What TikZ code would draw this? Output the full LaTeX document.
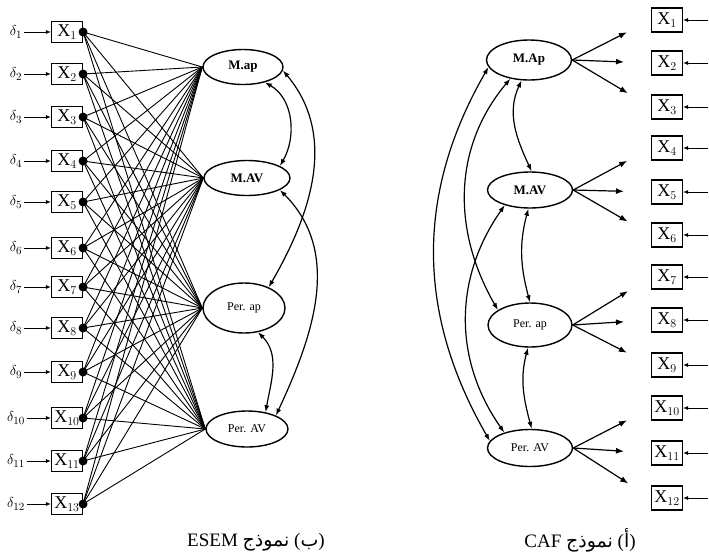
\documentclass[tikz,border=0pt]{standalone}
\usepackage{fontspec}
\setmainfont{Liberation Serif}
\newfontfamily\arabicfont[Script=Arabic]{DejaVu Sans}
\TeXXeTstate=1
\usetikzlibrary{arrows.meta,shapes.geometric}
\tikzset{
  loadline/.style={line width=0.9pt,draw=black},
  loadarrow/.style={-{Latex[length=8pt,width=6pt]},line width=1.2pt,shorten >=27pt},
  errarrow/.style={-{Latex[length=5pt,width=4pt]},line width=0.9pt},
  corrarrow/.style={{Latex[length=7pt,width=5pt]}-{Latex[length=7pt,width=5pt]},line width=1.2pt},
  factor/.style={ellipse,draw,line width=1.4pt,inner sep=0pt,font=\fontsize{13}{15}\selectfont\bfseries},
  perfactor/.style={factor,font=\fontsize{12}{14}\selectfont},
  xbox/.style={draw,line width=1.1pt,minimum width=31pt,minimum height=21pt,inner sep=0pt,
    font=\fontsize{18}{20}\selectfont},
  ldot/.style={circle,fill=black,minimum size=9pt,inner sep=0pt},
  errlabel/.style={inner sep=2pt,font=\fontsize{15}{17}\selectfont},
  caption/.style={font=\fontsize{19}{22}\selectfont},
}

\begin{document}
\begin{tikzpicture}[x=1pt,y=-1pt]
    \fill[white] (0,0) rectangle (709,555);
    \useasboundingbox (0,0) rectangle (709,555);

    % ESEM model
    \node[factor,minimum width=80pt,minimum height=35pt] (lmap) at (243,67) {M.ap};
    \node[factor,minimum width=86pt,minimum height=35pt] (lmav) at (247,178) {M.AV};
    \node[perfactor,minimum width=82pt,minimum height=50pt] (lpap) at (244,308) {Per. ap};
    \node[perfactor,minimum width=82pt,minimum height=36pt] (lpav) at (247,429) {Per. AV};

    \foreach \i/\y/\t in {1/32/1,2/74/2,3/117/3,4/161/4,5/202/5,6/248/6,7/287/7,8/328/8,
        9/372/9,10/418/10,11/461/11,12/504/13} {
      \node[xbox] (lx\i) at (67,\y) {X$_{\t}$};
      \node[errlabel] (le\i) at (16,\y) {$\delta_{\i}$};
      \draw[errarrow] (le\i) -- (lx\i);
      \node[ldot] (ld\i) at (lx\i.east) {};
      \foreach \f in {lmap,lmav,lpap,lpav}
        \draw[loadline] (ld\i.center) -- (\f.west);
    }

    \draw[corrarrow] (lmap.-35) to[out=-30,in=60] (lmav.20);
    \draw[corrarrow] (lmap.-5) to[out=-50,in=60] (lpap.40);
    \draw[corrarrow] (lmav.-20) to[out=-45,in=65] (lpav.25);
    \draw[corrarrow] (lpap.-60) to[out=-45,in=80] (lpav.42);

    \node[caption] (capb) at (256,542)
      {ESEM \beginR{\arabicfont نموذج}\endR\ (\beginR{\arabicfont ب}\endR)};

    % CAF model
    \node[factor,minimum width=85pt,minimum height=40pt] (rmap) at (529,60) {M.Ap};
    \node[factor,minimum width=85pt,minimum height=36pt] (rmav) at (530,190) {M.AV};
    \node[perfactor,minimum width=84pt,minimum height=44pt] (rpap) at (530,325) {Per. ap};
    \node[perfactor,minimum width=85pt,minimum height=37pt] (rpav) at (530,448) {Per. AV};

    \foreach \i/\y in {1/20,2/63,3/107,4/148,5/192,6/235,7/277,8/320,9/365,10/408,11/453,12/498} {
      \node[xbox,minimum height=24pt] (rx\i) at (667,\y) {X$_{\i}$};
      \coordinate (ru\i) at (708,\y);
      \draw[errarrow] (ru\i) -- (rx\i);
    }

    \foreach \f/\a/\b/\c in {rmap/1/2/3,rmav/4/5/6,rpap/7/8/9,rpav/10/11/12} {
      \draw[loadarrow] (\f.east) -- (rx\a.west);
      \draw[loadarrow] (\f.east) -- (rx\b.west);
      \draw[loadarrow] (\f.east) -- (rx\c.west);
    }

    \draw[corrarrow] (rmap.-110) to[out=-115,in=115] (rmav.85);
    \draw[corrarrow] (rmap.-135) to[out=-130,in=120] (rpap.155);
    \draw[corrarrow] (rmap.-170) to[out=-120,in=120] (rpav.170);
    \draw[corrarrow] (rmav.-149) to[out=-125,in=125] (rpav.149);
    \draw[corrarrow] (rmav.-95) to[out=-105,in=105] (rpap.90);
    \draw[corrarrow] (rpap.-95) to[out=-105,in=105] (rpav.85);

    \node[caption] (capa) at (580,540)
      {CAF \beginR{\arabicfont نموذج}\endR\ (\beginR{\arabicfont أ}\endR)};
\end{tikzpicture}
\end{document}
